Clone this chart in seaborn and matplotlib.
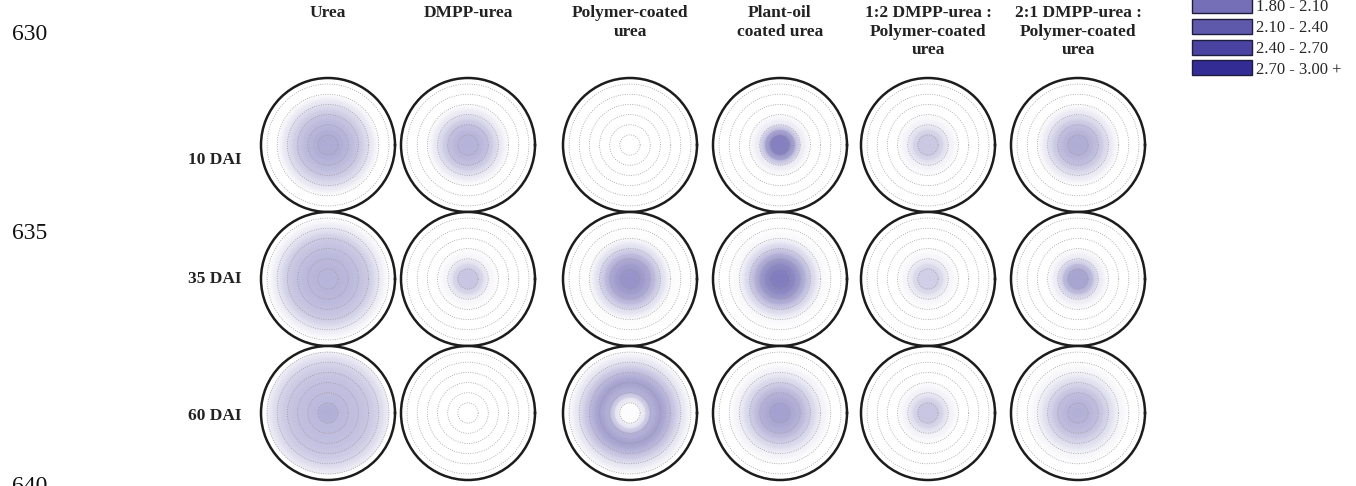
import numpy as np
import matplotlib
matplotlib.use("Agg")
import matplotlib.pyplot as plt
from matplotlib.patches import Patch
import seaborn as sns

# ---- data -------------------------------------------------------------
treatments = [
    "Urea",
    "DMPP-urea",
    "Polymer-coated\nurea",
    "Plant-oil\ncoated urea",
    "1:2 DMPP-urea :\nPolymer-coated\nurea",
    "2:1 DMPP-urea :\nPolymer-coated\nurea",
]
sampling_days = ["10 DAI", "35 DAI", "60 DAI"]
distance_cm = [0, 1, 2, 3, 4, 5, 6]

# concentration vs. distance from the fertiliser band, one list per treatment
conc_10dai = [
    [1.15, 1.10, 0.95, 0.75, 0.40, 0.00, 0.00],
    [1.05, 1.00, 0.80, 0.35, 0.00, 0.00, 0.00],
    [0.00, 0.00, 0.00, 0.00, 0.00, 0.00, 0.00],
    [1.80, 1.60, 0.30, 0.00, 0.00, 0.00, 0.00],
    [0.80, 0.70, 0.20, 0.00, 0.00, 0.00, 0.00],
    [1.15, 1.05, 0.80, 0.35, 0.00, 0.00, 0.00],
]
conc_35dai = [
    [1.00, 1.00, 0.95, 0.85, 0.70, 0.30, 0.00],
    [0.85, 0.70, 0.15, 0.00, 0.00, 0.00, 0.00],
    [1.50, 1.40, 1.10, 0.50, 0.05, 0.00, 0.00],
    [1.80, 1.70, 1.30, 0.60, 0.10, 0.00, 0.00],
    [0.70, 0.60, 0.15, 0.00, 0.00, 0.00, 0.00],
    [1.30, 1.15, 0.30, 0.00, 0.00, 0.00, 0.00],
]
conc_60dai = [
    [1.20, 0.95, 0.90, 0.85, 0.75, 0.55, 0.20],
    [0.00, 0.00, 0.00, 0.00, 0.00, 0.00, 0.00],
    [0.00, 0.05, 1.00, 1.30, 0.90, 0.40, 0.05],
    [1.35, 1.20, 1.00, 0.60, 0.20, 0.00, 0.00],
    [0.85, 0.70, 0.20, 0.00, 0.00, 0.00, 0.00],
    [1.10, 1.00, 0.85, 0.50, 0.15, 0.00, 0.00],
]
legend_bins = [1.80, 2.10, 2.40, 2.70, 3.00]
legend_labels = ["1.80 - 2.10", "2.10 - 2.40", "2.40 - 2.70", "2.70 - 3.00 +"]
page_line_numbers = ["630", "635", "640"]

# ---- style ------------------------------------------------------------
sns.set_theme(style="white")
plt.rcParams["font.family"] = ["Liberation Serif", "DejaVu Serif"]

cmap = sns.blend_palette(["#ffffff", "#2a2290"], as_cmap=True)
vmin, vmax = 0.0, 3.0

W, H = 1356, 486
fig = plt.figure(figsize=(W / 100, H / 100), dpi=100)

col_x = [328, 468, 630, 780, 928, 1078]
row_y = [145, 279, 413]
label_y = [160, 279, 416]
R = 67

theta = np.linspace(0, 2 * np.pi, 181)
rr = np.asarray(distance_cm, dtype=float)
TT, RR = np.meshgrid(theta, rr, indexing="ij")

rows = [conc_10dai, conc_35dai, conc_60dai]
for i, (day, profiles) in enumerate(zip(sampling_days, rows)):
    cy = row_y[i]
    for j, prof in enumerate(profiles):
        cx = col_x[j]
        ax = fig.add_axes([(cx - R) / W, 1 - (cy + R) / H, 2 * R / W, 2 * R / H],
                          projection="polar")
        C = np.tile(np.asarray(prof, dtype=float), (len(theta), 1))
        ax.pcolormesh(TT, RR, C, shading="gouraud", cmap=cmap,
                      vmin=vmin, vmax=vmax, zorder=0)
        ax.set_ylim(0, 6.6)
        ax.set_yticks(distance_cm[1:])
        ax.set_yticklabels([])
        ax.set_xticks([])
        ax.yaxis.grid(True, linestyle=(0, (1.0, 1.8)), color="#9a9a9a", lw=0.6)
        ax.xaxis.grid(False)
        ax.spines["polar"].set_linewidth(1.8)
        ax.spines["polar"].set_color("#1c1c1c")
        ax.set_facecolor("white")
    fig.text(242 / W, 1 - label_y[i] / H, day, ha="right", va="center",
             fontsize=12.5, fontweight="bold", color="#222222")

for j, name in enumerate(treatments):
    fig.text(col_x[j] / W, 1 - 5 / H, name, ha="center", va="top",
             fontsize=12.5, fontweight="bold", color="#222222", linespacing=1.22)

# page line numbers in the left margin
for label, y in zip(page_line_numbers, [35, 233, 486]):
    fig.text(12 / W, 1 - y / H, label, ha="left", va="center",
             fontsize=17, color="#111111")

# colour-class legend
mids = [(a + b) / 2 for a, b in zip(legend_bins[:-1], legend_bins[1:])]
handles = [Patch(facecolor=cmap((m - vmin) / (vmax - vmin)), edgecolor="#1e1e3c",
                 linewidth=1.0) for m in mids]
fig.legend(handles, legend_labels, loc="upper left",
           bbox_to_anchor=(1192 / W, 1 + 2 / H), frameon=False,
           fontsize=12, handlelength=3.6, handleheight=1.0,
           handletextpad=0.25, labelspacing=0.22, borderpad=0,
           borderaxespad=0)

fig.savefig("out.png", dpi=100, facecolor="white")
